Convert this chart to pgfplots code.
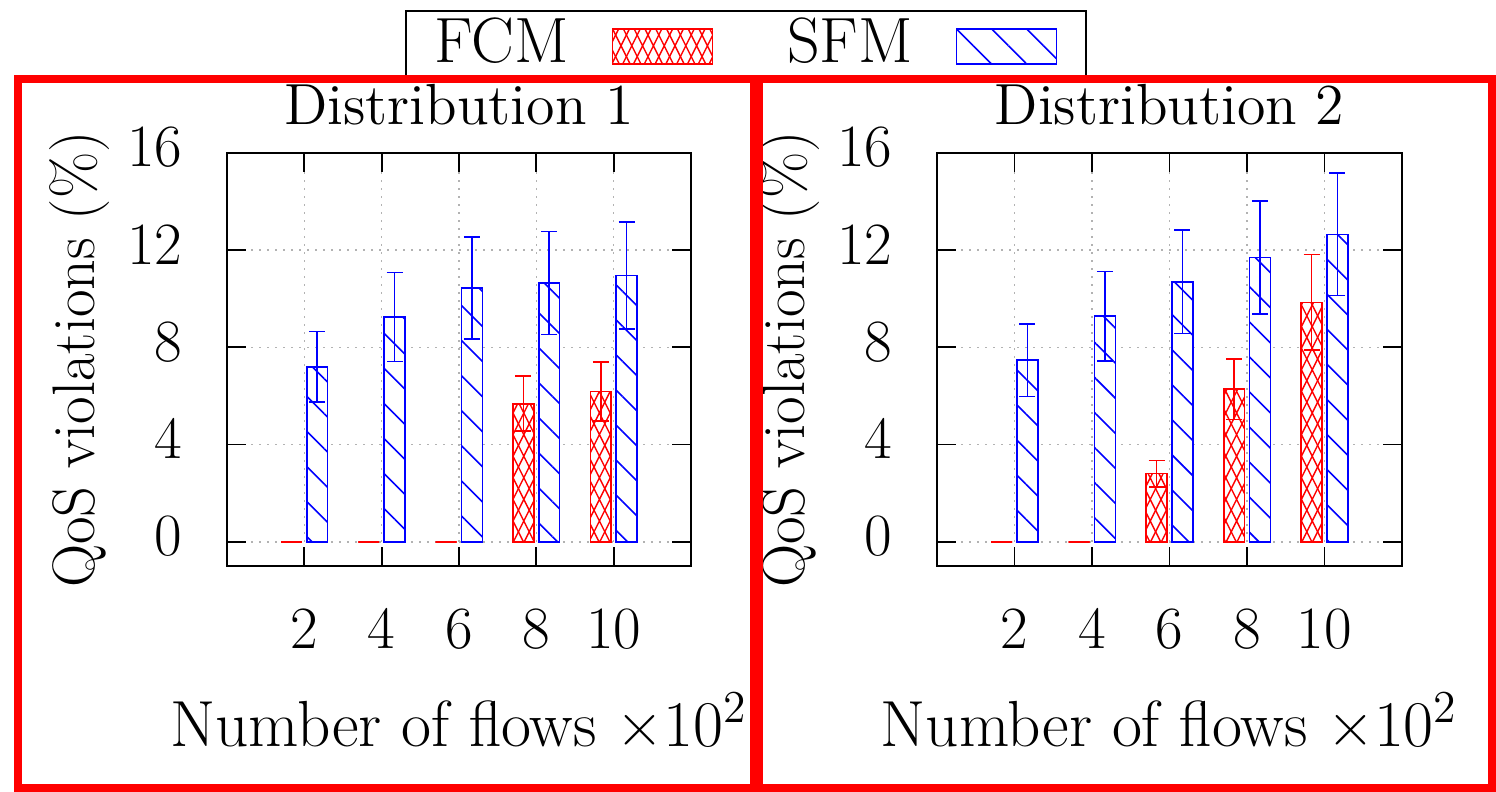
\RequirePackage{fix-cm}
\documentclass[border=0pt]{standalone}
\usepackage{fontspec}
\usepackage{pgfplots}
\usepackage{pgfplotstable}
\pgfplotsset{compat=1.18}
\usetikzlibrary{patterns,patterns.meta}

\pgfdeclarepatternformonly{fcmdiamonds}{\pgfqpoint{-0.5pt}{-0.5pt}}{\pgfqpoint{3.2pt}{5.9pt}}{\pgfqpoint{2.7pt}{5.4pt}}{%
  \pgfsetlinewidth{0.35pt}%
  \pgfpathmoveto{\pgfqpoint{0pt}{0pt}}\pgfpathlineto{\pgfqpoint{2.7pt}{5.4pt}}%
  \pgfpathmoveto{\pgfqpoint{0pt}{5.4pt}}\pgfpathlineto{\pgfqpoint{2.7pt}{0pt}}%
  \pgfusepath{stroke}}

\pgfplotstableread{
x fcm fcme sfm sfme
2 0 0 7.2 1.45
4 0 0 9.25 1.83
6 0 0 10.45 2.1
8 5.68 1.13 10.65 2.12
10 6.18 1.22 10.95 2.2
}\distA

\pgfplotstableread{
x fcm fcme sfm sfme
2 0 0 7.47 1.5
4 0 0 9.28 1.85
6 2.8 0.55 10.7 2.13
8 6.28 1.25 11.7 2.32
10 9.85 1.97 12.65 2.52
}\distB

\pgfplotsset{
  ybar legend/.style={legend image code/.code={\path (0pt,-7.65pt);\draw[##1] (0pt,-5.9pt) rectangle (25pt,2.85pt);}},
  myaxis/.style={
    scale only axis, width=116pt, height=103.25pt,
    xmin=0, xmax=12, ymin=-1, ymax=16,
    xtick={2,4,6,8,10}, ytick={0,4,8,12,16},
    /pgf/number format/assume math mode=true,
    ybar=1.25pt, bar width=5.2pt,
    grid=major,
    major grid style={gray!60, line width=0.4pt, dash pattern=on 0.6pt off 1.4pt},
    tick align=inside, major tick length=4.75pt,
    every tick/.style={black, line width=0.45pt},
    axis line style={line width=0.45pt},
    tick label style={font=\fontsize{15}{18}\selectfont},
    xticklabel style={anchor=base, yshift=-20.5pt},
    yticklabel style={anchor=east, inner sep=0pt, xshift=-11pt, yshift=1.4pt},
    xlabel={Number of flows ×10\textsuperscript{2}},
    xlabel style={at={(axis description cs:0.5,0)}, anchor=base, yshift=-45pt, font=\fontsize{16.3}{19}\selectfont},
    ylabel={QoS violations (\%)},
    ylabel style={at={(axis description cs:-0.317,0.5)}, anchor=center, font=\fontsize{15}{18}\selectfont},
    title style={at={(axis description cs:0.5,1)}, anchor=base, yshift=1pt, font=\fontsize{14.5}{17}\selectfont},
  },
  fcmstyle/.style={draw=red, line width=0.4pt, fill=white,
    postaction={pattern=fcmdiamonds, pattern color=red},
    error bars/.cd, y dir=both, y explicit,
    error bar style={red, line width=0.4pt, solid},
    error mark options={red, line width=0.4pt, mark size=2pt, rotate=90}},
  sfmstyle/.style={draw=blue, line width=0.4pt, fill=white,
    postaction={pattern={Lines[angle=-45,distance=6.2pt,line width=0.4pt]}, pattern color=blue},
    error bars/.cd, y dir=both, y explicit,
    error bar style={blue, line width=0.4pt, solid},
    error mark options={blue, line width=0.4pt, mark size=2pt, rotate=90}},
}

\begin{document}
\begin{tikzpicture}
\useasboundingbox (0,0) rectangle (374pt,197.75pt);

\begin{axis}[myaxis, at={(56.75pt,56.25pt)}, anchor=south west,
  title={Distribution 1},
  legend columns=2, legend plot pos=right,
  legend style={at={(axis description cs:1.1185,1.3462)}, anchor=north,
    draw=black, line width=0.5pt, fill=white,
    inner xsep=7.25pt, inner ysep=1.75pt,
    nodes={inner sep=0pt, text depth=0pt, font=\fontsize{16}{19}\selectfont},
    /tikz/every odd column/.style={column sep=10.75pt},
    /tikz/every even column/.style={column sep=18.5pt}},
]
\addplot[fcmstyle] table[x=x, y=fcm, y error=fcme]{\distA};
\addlegendentry{FCM}
\addplot[sfmstyle] table[x=x, y=sfm, y error=sfme]{\distA};
\addlegendentry{SFM}
\end{axis}

\begin{axis}[myaxis, at={(234.25pt,56.25pt)}, anchor=south west, width=116.25pt,
  title={Distribution 2}]
\addplot[fcmstyle] table[x=x, y=fcm, y error=fcme]{\distB};
\addplot[sfmstyle] table[x=x, y=sfm, y error=sfme]{\distB};
\end{axis}

\draw[red, line width=2pt] (4.5pt,0.75pt) rectangle (188.5pt,177.875pt);
\draw[red, line width=2pt] (189.75pt,0.75pt) rectangle (373pt,177.875pt);
\end{tikzpicture}
\end{document}
